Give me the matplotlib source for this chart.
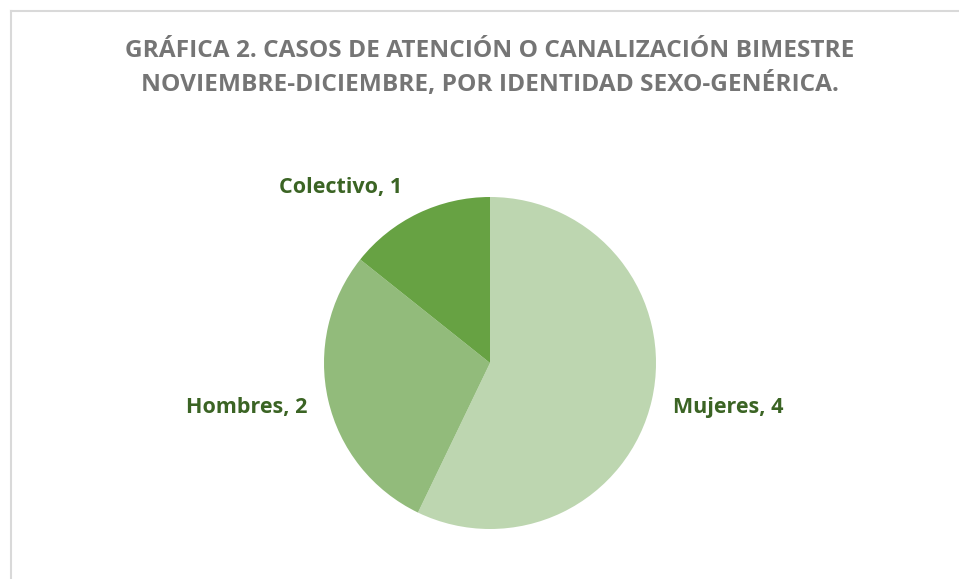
import matplotlib.pyplot as plt

# data
categories = ['Mujeres', 'Hombres', 'Colectivo']
values = [4, 2, 1]
colors = ['#bdd6b0', '#92bb7b', '#67a243']
# label anchor points in pixels (x, y from top)
label_pos = [(728, 408), (247, 408), (341, 187)]

W, H = 959, 579
fig = plt.figure(figsize=(W / 100, H / 100), dpi=100)
ax = fig.add_axes([0, 0, 1, 1])

# chart border (left and top visible)
ax.plot([10.5, 10.5], [0, H - 10.5], color='#d9d9d9', lw=1.5)
ax.plot([10.5, W], [H - 10.5, H - 10.5], color='#d9d9d9', lw=1.5)

ax.pie(values, colors=colors, startangle=90, counterclock=False,
       center=(490, H - 363), radius=166, frame=True,
       wedgeprops=dict(linewidth=0))
ax.set_xlim(0, W)
ax.set_ylim(0, H)
ax.set_aspect('equal')
ax.axis('off')

for cat, v, (x, y) in zip(categories, values, label_pos):
    ax.text(x, H - y, f'{cat}, {v}', ha='center', va='center',
            fontsize=15.5, fontweight='bold', color='#3b6424', family='Open Sans')

ax.text(490, H - 51, 'GRÁFICA 2. CASOS DE ATENCIÓN O CANALIZACIÓN BIMESTRE',
        ha='center', va='center', fontsize=17.6, fontweight='bold', color='#757575', family='Open Sans')
ax.text(490, H - 84, 'NOVIEMBRE-DICIEMBRE, POR IDENTIDAD SEXO-GENÉRICA.',
        ha='center', va='center', fontsize=17.6, fontweight='bold', color='#757575', family='Open Sans')

fig.savefig('out.png', dpi=100)
